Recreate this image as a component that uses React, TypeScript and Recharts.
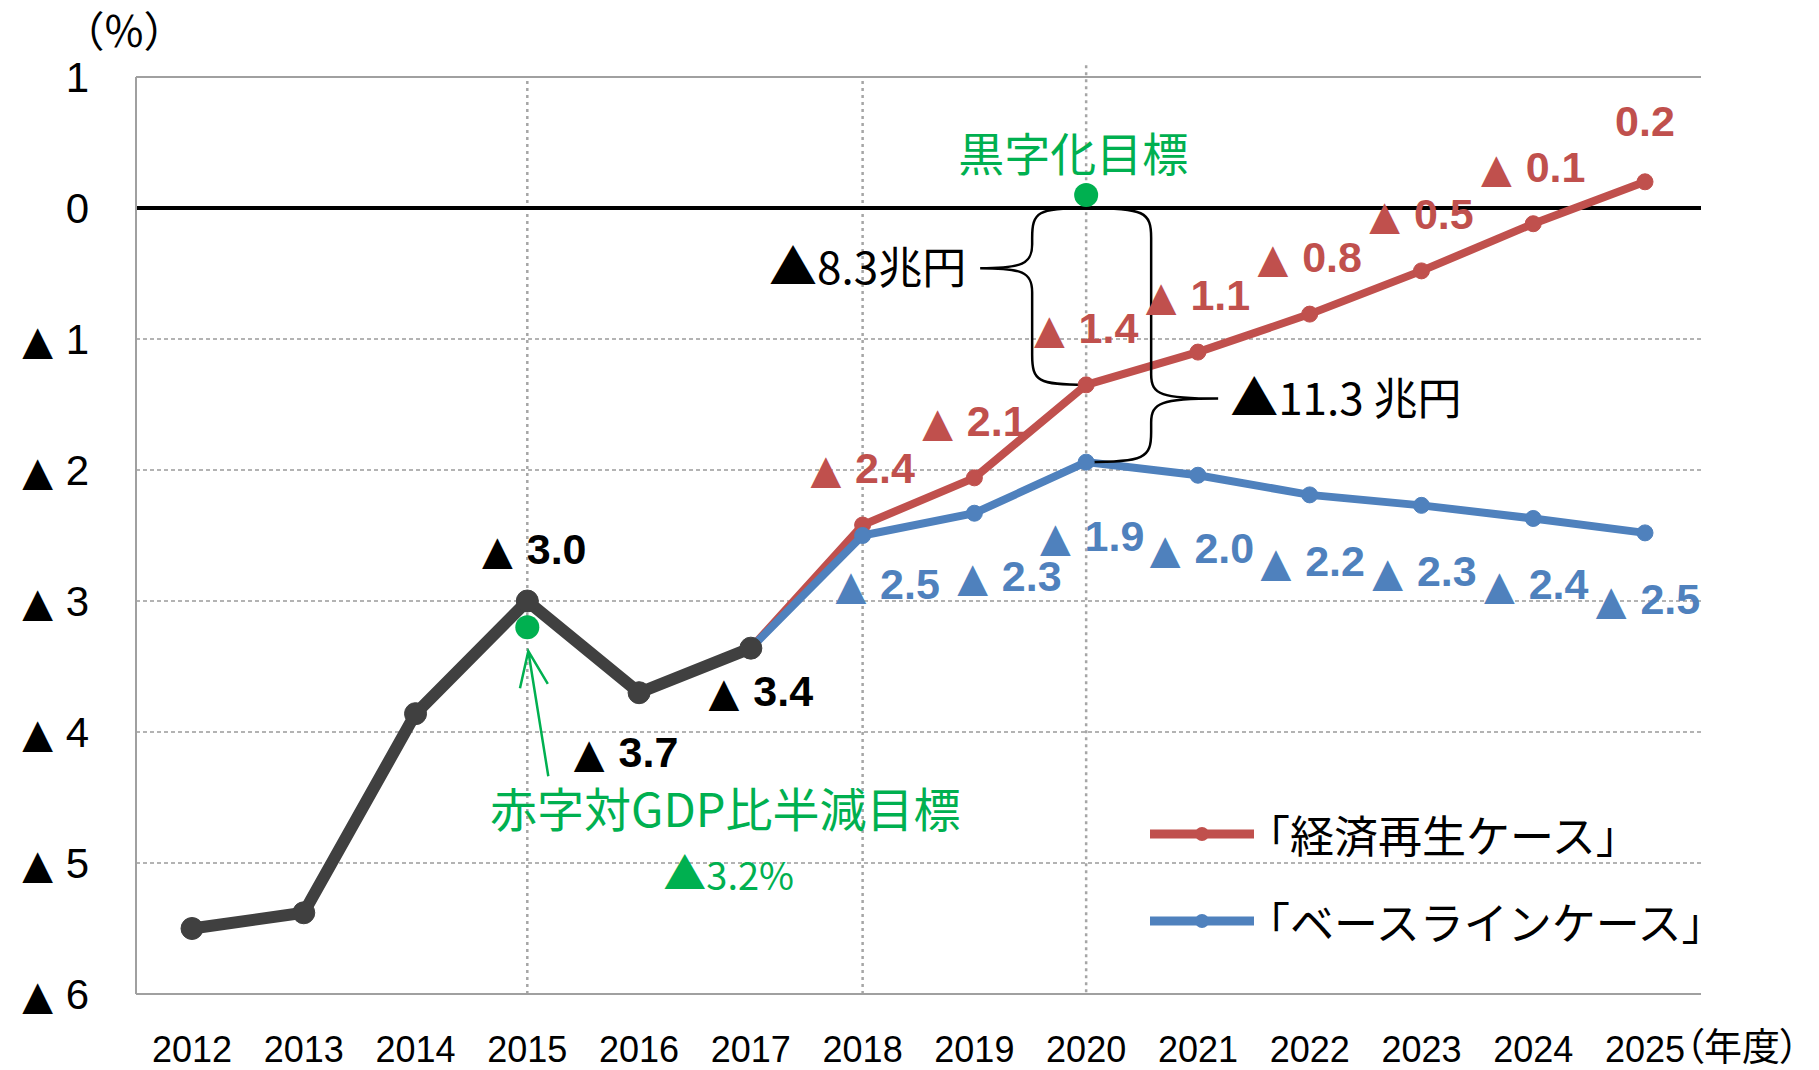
import React from 'react';
import {
  LineChart, Line, XAxis, YAxis, CartesianGrid, ReferenceLine, ReferenceDot, LabelList, Legend,
} from 'recharts';

// fiscal years on the category axis
const years = ['2012', '2013', '2014', '2015', '2016', '2017', '2018', '2019', '2020', '2021', '2022', '2023', '2024', '2025'];

// primary balance / GDP (%)
const actual = [-5.5, -5.38, -3.86, -3.0, -3.7, -3.36, null, null, null, null, null, null, null, null];
const revival = [null, null, null, null, null, -3.36, -2.42, -2.06, -1.35, -1.1, -0.81, -0.48, -0.12, 0.2];
const baseline = [null, null, null, null, null, -3.36, -2.5, -2.33, -1.94, -2.04, -2.19, -2.27, -2.37, -2.48];

const actualLabels = ['', '', '', '3.0', '3.7', '3.4', '', '', '', '', '', '', '', ''];
const revivalLabels = ['', '', '', '', '', '', '2.4', '2.1', '1.4', '1.1', '0.8', '0.5', '0.1', '0.2'];
const baselineLabels = ['', '', '', '', '', '', '2.5', '2.3', '1.9', '2.0', '2.2', '2.3', '2.4', '2.5'];
// which labels carry the ▲ (minus) mark
const revivalNegative = [false, false, false, false, false, false, true, true, true, true, true, true, true, false];

const seriesKeys = ['revival', 'baseline'];
const seriesNames = ['「経済再生ケース」', '「ベースラインケース」'];
const yTicks = [1, 0, -1, -2, -3, -4, -5, -6];
const markedYears = ['2015', '2018'];
const targetYear = '2020';

const halvingYear = '2015';
const halvingValue = -3.2;
const halvingText = '赤字対GDP比半減目標';
const halvingSub = '3.2%';
const surplusValue = 0.1;
const surplusText = '黒字化目標';
const gapRevivalText = '8.3兆円';
const gapBaselineText = '11.3 兆円';
const unitY = '（％）';
const unitX = '（年度）';

const rows = years.map((year, i) => ({
  year,
  actual: actual[i],
  revival: revival[i],
  baseline: baseline[i],
}));

const NUM = '"Liberation Sans", Arial, sans-serif';
const TRI = '"DejaVu Sans", sans-serif';
const JP = '"Noto Sans CJK JP", "Noto Sans", sans-serif';
const RED = '#c0504d';
const BLUE = '#4f81bd';
const DARK = '#404040';
const GREEN = '#00b050';
const FRAME = '#a0a0a0';

const W = 1819;
const H = 1070;

// label nudges (px) relative to each point
const actualNudge = (i: number): [number, number] => (({ 3: [7, -37], 4: [-13, 74], 5: [10, 58] } as any)[i] || [0, 0]);
const revivalNudge = (i: number): [number, number] => (i === 13 ? [0, -46] : [0, -42]);
const baselineNudge = (i: number): [number, number] => (({ 6: [25, 63], 7: [35, 78], 8: [6, 89], 9: [4, 88] } as any)[i] || [3, 81]);

const pointLabel = (texts: string[], color: string, nudge: (i: number) => [number, number], negative?: boolean[]) => (props: any) => {
  const i = props.index;
  const t = texts[i];
  const x = props.x ?? props.viewBox?.x;
  const y = props.y ?? props.viewBox?.y;
  if (!t || x == null || y == null) return null;
  const [dx, dy] = nudge(i);
  const neg = negative ? negative[i] : true;
  return (
    <text key={`lbl-${i}`} x={x + dx} y={y + dy} textAnchor="middle" fill={color}
      fontSize={43} fontWeight={700} fontFamily={NUM}>
      {neg && <tspan fontFamily={TRI} fontSize={40}>▲ </tspan>}
      {t}
    </text>
  );
};

const YTick = ({ x, y, payload }: any) => {
  const v = payload.value;
  return (
    <text x={x} y={y} dy="0.36em" textAnchor="end" fontSize={42} fill="#000" fontFamily={NUM}>
      {v < 0 && <tspan fontFamily={TRI} fontSize={40}>▲ </tspan>}
      {String(Math.abs(v))}
    </text>
  );
};

const XTick = ({ x, y, payload }: any) => (
  <g>
    <text x={x} y={y + 68} textAnchor="middle" fontSize={36} fill="#000" fontFamily={NUM}>{payload.value}</text>
    {payload.value === years[years.length - 1] && (
      <text x={x + 40} y={y + 66} fontSize={38} fill="#000" fontFamily={JP} style={{ fontFeatureSettings: '"palt"' }}>
        {unitX}
      </text>
    )}
  </g>
);

// curly brace from the target (0) down to a 2020 value
const Brace = (props: any) => {
  const { x1, y1, y2, side, reach, tip, cusp, text } = props;
  if (x1 == null || y1 == null || y2 == null) return null;
  const s = side;
  const cx = x1;
  const top = Math.min(y1, y2);
  const bot = Math.max(y1, y2);
  const vx = cx + s * reach;
  const cy = top + (bot - top) * cusp;
  const tx = vx + s * tip;
  const r = 30;
  const d = `M${cx},${top} C${cx + s * reach * 0.9},${top} ${vx},${top + 4} ${vx},${top + r}`
    + ` L${vx},${cy - 24} C${vx},${cy - 4} ${vx + s * 10},${cy} ${tx},${cy}`
    + ` C${vx + s * 10},${cy} ${vx},${cy + 4} ${vx},${cy + 24}`
    + ` L${vx},${bot - r} C${vx},${bot - 4} ${cx + s * reach * 0.9},${bot} ${cx},${bot}`;
  return (
    <g>
      <path d={d} fill="none" stroke="#000" strokeWidth={2.5} />
      <text x={s < 0 ? tx - 14 : tx + 12} y={cy + 16} textAnchor={s < 0 ? 'end' : 'start'}
        fontSize={44} fill="#000" fontFamily={JP}>
        <tspan fontSize={48}>▲</tspan>{text}
      </text>
    </g>
  );
};

const HalvingMark = ({ cx, cy }: any) => {
  if (cx == null || cy == null) return null;
  const tail = [cx + 21, cy + 149];
  const tip = [cx + 1, cy + 24];
  const ang = Math.atan2(tip[1] - tail[1], tip[0] - tail[0]);
  const L = 38;
  const sp = 0.38;
  const w1 = [tip[0] - L * Math.cos(ang - sp), tip[1] - L * Math.sin(ang - sp)];
  const w2 = [tip[0] - L * Math.cos(ang + sp), tip[1] - L * Math.sin(ang + sp)];
  return (
    <g>
      <circle cx={cx} cy={cy} r={12} fill={GREEN} />
      <path d={`M${tail[0]},${tail[1]} L${tip[0]},${tip[1]} M${w1[0]},${w1[1]} L${tip[0]},${tip[1]} L${w2[0]},${w2[1]}`}
        fill="none" stroke={GREEN} strokeWidth={2.5} />
      <text x={cx + 198} y={cy + 200} textAnchor="middle" fontSize={47} fill={GREEN} fontFamily={JP}>{halvingText}</text>
      <text x={cx + 136} y={cy + 263} fontSize={38} fill={GREEN} fontFamily={JP}>
        <tspan fontSize={43}>▲</tspan>{halvingSub}
      </text>
    </g>
  );
};

const SurplusMark = ({ cx, cy }: any) => {
  if (cx == null || cy == null) return null;
  return (
    <g>
      <circle cx={cx} cy={cy} r={12} fill={GREEN} />
      <text x={cx - 13} y={cy - 24} textAnchor="middle" fontSize={46} fill={GREEN} fontFamily={JP}>{surplusText}</text>
    </g>
  );
};

const renderLegend = (props: any) => {
  const items = seriesKeys
    .map((k) => (props.payload || []).find((p: any) => p.dataKey === k))
    .filter(Boolean);
  return (
    <div>
      {items.map((item: any) => (
        <div key={item.dataKey} style={{ display: 'flex', alignItems: 'center', height: 87 }}>
          <svg width={104} height={24} style={{ flex: 'none' }}>
            <line x1={0} y1={12} x2={104} y2={12} stroke={item.color} strokeWidth={9} />
            <circle cx={52} cy={12} r={7} fill={item.color} />
          </svg>
          <span style={{ fontFamily: JP, fontSize: 44, color: '#000', whiteSpace: 'nowrap', lineHeight: 1, marginLeft: -8 }}>
            {item.value}
          </span>
        </div>
      ))}
    </div>
  );
};

const ti = years.indexOf(targetYear);

export default function App() {
  return (
    <div style={{ position: 'absolute', left: 0, top: 0, width: W, height: H, background: '#fff' }}>
      <LineChart width={W} height={H} data={rows} margin={{ top: 77, right: 118, bottom: 16, left: 36 }}>
        <CartesianGrid vertical={false} horizontalValues={[-1, -2, -3, -4, -5]} stroke="#9a9a9a" strokeDasharray="4 3" strokeWidth={1.5} />
        <XAxis dataKey="year" padding={{ left: 56, right: 56 }} height={60} tickLine={false} tickSize={0} tickMargin={0}
          axisLine={{ stroke: FRAME, strokeWidth: 2 }} tick={<XTick />} interval={0} />
        <YAxis domain={[-6, 1]} ticks={yTicks} interval={0} width={100} tickLine={false} tickSize={0} tickMargin={47}
          axisLine={{ stroke: FRAME, strokeWidth: 2 }} tick={<YTick />} allowDataOverflow />
        <YAxis yAxisId="frame" orientation="right" domain={[-6, 1]} width={0} tick={false} tickLine={false}
          axisLine={{ stroke: FRAME, strokeWidth: 2 }} />
        <ReferenceLine y={1} stroke={FRAME} strokeWidth={2} />
        {markedYears.map((yr) => (
          <ReferenceLine key={yr} x={yr} stroke="#a6a6a6" strokeWidth={2.5} strokeDasharray="3 4" />
        ))}
        <ReferenceLine segment={[{ x: targetYear, y: 1.09 }, { x: targetYear, y: -6 }]} ifOverflow="visible"
          stroke="#a6a6a6" strokeWidth={2.5} strokeDasharray="3 4" />
        <ReferenceLine y={0} stroke="#000" strokeWidth={4} />

        <Line dataKey="revival" name={seriesNames[0]} stroke={RED} strokeWidth={8} isAnimationActive={false}
          dot={{ r: 8, fill: RED, stroke: RED, strokeWidth: 1 }} activeDot={false}>
          <LabelList dataKey="revival" content={pointLabel(revivalLabels, RED, revivalNudge, revivalNegative)} />
        </Line>
        <Line dataKey="baseline" name={seriesNames[1]} stroke={BLUE} strokeWidth={8} isAnimationActive={false}
          dot={{ r: 8, fill: BLUE, stroke: BLUE, strokeWidth: 1 }} activeDot={false}>
          <LabelList dataKey="baseline" content={pointLabel(baselineLabels, BLUE, baselineNudge)} />
        </Line>
        <Line dataKey="actual" legendType="none" stroke={DARK} strokeWidth={12} isAnimationActive={false}
          dot={{ r: 11, fill: DARK, stroke: DARK, strokeWidth: 1 }} activeDot={false}>
          <LabelList dataKey="actual" content={pointLabel(actualLabels, '#000', actualNudge)} />
        </Line>

        <ReferenceLine segment={[{ x: targetYear, y: 0 }, { x: targetYear, y: revival[ti] as number }]} ifOverflow="visible"
          shape={(p: any) => <Brace {...p} side={-1} reach={54} tip={52} cusp={0.34} text={gapRevivalText} />} />
        <ReferenceLine segment={[{ x: targetYear, y: 0 }, { x: targetYear, y: baseline[ti] as number }]} ifOverflow="visible"
          shape={(p: any) => <Brace {...p} side={1} reach={65} tip={67} cusp={0.75} text={gapBaselineText} />} />
        <ReferenceDot x={targetYear} y={surplusValue} r={12} ifOverflow="visible" shape={(p: any) => <SurplusMark {...p} />} />
        <ReferenceDot x={halvingYear} y={halvingValue} r={12} ifOverflow="visible" shape={(p: any) => <HalvingMark {...p} />} />

        <Legend layout="vertical" align="center" verticalAlign="middle" content={renderLegend}
          wrapperStyle={{ left: 1150, top: 790, width: 620 }} />
      </LineChart>
      <div style={{ position: 'absolute', left: 82, top: 4, fontFamily: JP, fontSize: 42, color: '#000', fontFeatureSettings: '"palt"', lineHeight: 1.2 }}>
        {unitY}
      </div>
    </div>
  );
}
